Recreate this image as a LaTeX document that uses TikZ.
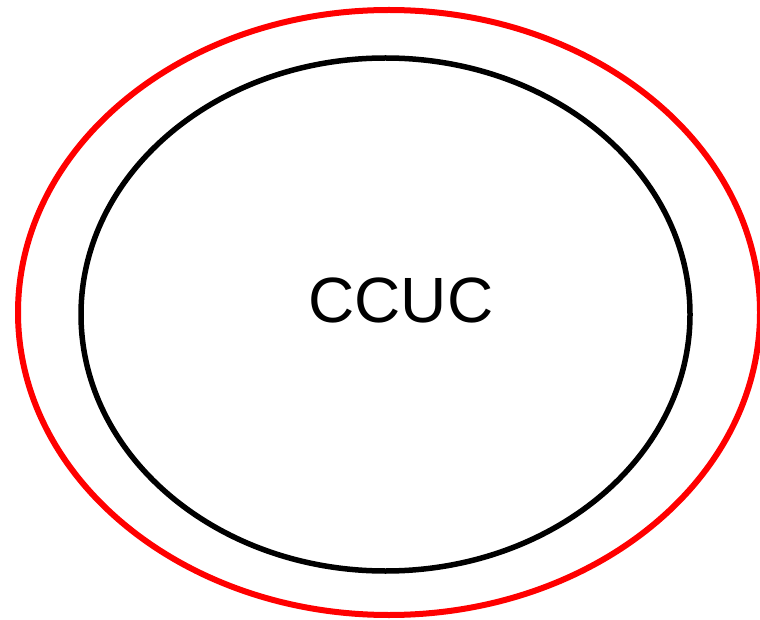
\documentclass[tikz,border=0pt]{standalone}
\usepackage{fontspec}
\setmainfont{Liberation Sans}
\begin{document}
\begin{tikzpicture}[x=1pt,y=-1pt]
\useasboundingbox (0,0) rectangle (760,620);
\draw [red, line width=6pt] (389,312.5) ellipse (371 and 302.5);
\draw [black, line width=5.5pt] (385.5,314.5) ellipse (304.5 and 256.5);
\node (ccuc) at (401,300) [font=\fontsize{64}{70}\selectfont, inner sep=0pt]{CCUC};
\end{tikzpicture}
\end{document}
